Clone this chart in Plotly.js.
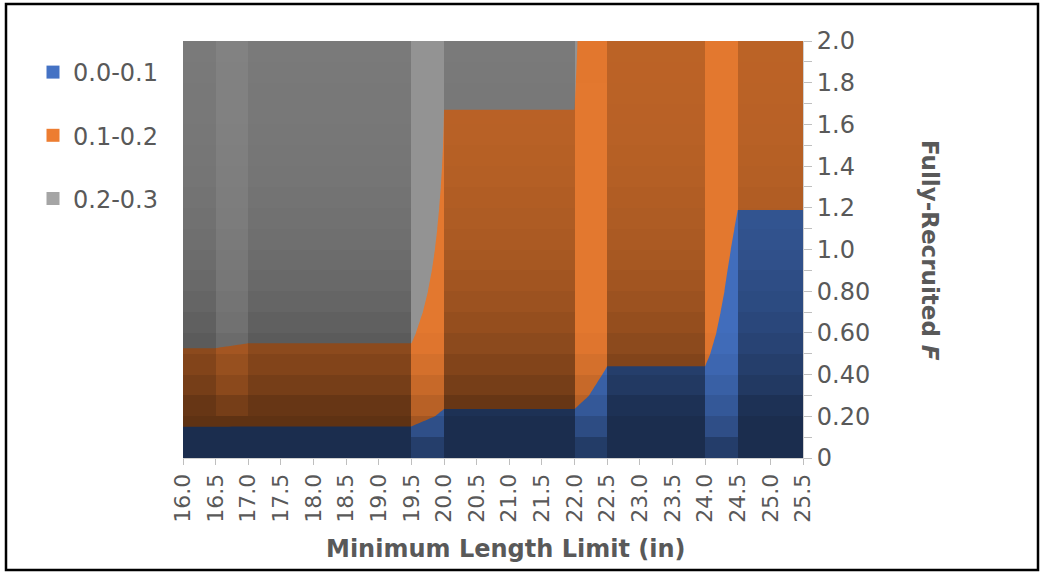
<!DOCTYPE html>
<html><head><meta charset="utf-8">
<script src="https://cdn.plot.ly/plotly-3.0.1.min.js"></script>
<style>html,body{margin:0;padding:0;background:#fff}#chart{width:1045px;height:575px}</style>
</head><body><div id="chart"></div>
<script>
// ---- data ----
const lengthLimits = [16.0,16.5,17.0,17.5,18.0,18.5,19.0,19.5,20.0,20.5,21.0,21.5,22.0,22.5,23.0,23.5,24.0,24.5,25.0,25.5];
const lengthLabels = ['16.0','16.5','17.0','17.5','18.0','18.5','19.0','19.5','20.0','20.5','21.0','21.5','22.0','22.5','23.0','23.5','24.0','24.5','25.0','25.5'];
const fValues = [0,0.1,0.2,0.3,0.4,0.5,0.6,0.7,0.8,0.9,1.0,1.1,1.2,1.3,1.4,1.5,1.6,1.7,1.8,1.9,2.0];
const fTickVals = [0,0.2,0.4,0.6,0.8,1.0,1.2,1.4,1.6,1.8,2.0];
const fTickLabels = ['0','0.20','0.40','0.60','0.80','1.0','1.2','1.4','1.6','1.8','2.0'];
const bandNames = ['0.0-0.1','0.1-0.2','0.2-0.3'];
const bandColors = ['#4472c4','#ed7d31','#a5a5a5'];
// value of the surface along F for each group of length limits
const profileA = [0,0.075,0.125,0.158,0.179,0.196,0.211,0.223,0.233,0.241,0.248,0.254,0.259,0.264,0.268,0.272,0.275,0.278,0.281,0.284,0.286];
const profileB = [0,0.075,0.124,0.155,0.176,0.193,0.207,0.219,0.229,0.237,0.244,0.250,0.255,0.260,0.264,0.268,0.271,0.274,0.277,0.280,0.282];
const profileC = [0,0.052,0.091,0.117,0.134,0.147,0.157,0.165,0.172,0.178,0.183,0.187,0.1905,0.1935,0.196,0.198,0.1993,0.2003,0.2012,0.202,0.2027];
const profileD = [0,0.035,0.060,0.079,0.094,0.109,0.121,0.130,0.138,0.144,0.149,0.153,0.157,0.160,0.163,0.165,0.167,0.169,0.171,0.172,0.173];
const profileE = [0,0.014,0.026,0.036,0.045,0.053,0.060,0.067,0.074,0.080,0.087,0.094,0.1007,0.106,0.111,0.116,0.120,0.124,0.128,0.131,0.134];
const columnProfile = ['A','A','B','B','B','B','B','B','C','C','C','C','C','D','D','D','D','E','E','E'];

// ---- build ----
const profiles = {A:profileA,B:profileB,C:profileC,D:profileD,E:profileE};
const z = fValues.map((f,j)=>columnProfile.map(p=>profiles[p][j]));

// shading (3-D lighting look): darker toward F=0, lighter on steep facets
const shade = [];
for(let j=0;j<fValues.length-1;j++){
  const Fc=(fValues[j]+fValues[j+1])/2;
  const base=0.40+0.41*(1-Math.exp(-Math.max(0,Fc-0.2)/0.55));
  const w=Math.min(1,0.4+Fc);
  const row=[];
  for(let i=0;i<lengthLimits.length-1;i++){
    const dz=(Math.abs(z[j][i+1]-z[j][i])+Math.abs(z[j+1][i+1]-z[j+1][i]))/2;
    const s=Math.min(1,Math.sqrt(Math.max(0,dz-0.001)/0.03));
    const b=base+(0.96-base)*s*w;
    row.push(1-b);
  }
  shade.push(row);
}

const surfaceGray='#9a9a9a';
const font='DejaVu Sans, Liberation Sans, Arial, sans-serif';
const txt='#595959';
const traces=[
  {type:'contour',x:lengthLimits,y:fValues,z:z,
   contours:{start:0.1,end:0.2,size:0.1,coloring:'fill',showlines:false},
   line:{width:0,smoothing:0},
   colorscale:[[0,bandColors[0]],[0.3333,bandColors[0]],[0.3333,bandColors[1]],[0.6667,bandColors[1]],[0.6667,surfaceGray],[1,surfaceGray]],
   showscale:false,hoverinfo:'skip',showlegend:false},
  {type:'heatmap',x:lengthLimits,y:fValues,z:shade,zmin:0,zmax:1,zsmooth:false,xaxis:'x2',yaxis:'y2',
   colorscale:[[0,'rgba(0,0,0,0)'],[1,'rgba(0,0,0,1)']],showscale:false,hoverinfo:'skip',showlegend:false}
];
bandNames.forEach((n,k)=>traces.push({type:'scatter',mode:'markers',x:[null],y:[null],name:n,legendgroup:'g'+k,
  marker:{symbol:'square',size:13,color:bandColors[k]},hoverinfo:'skip'}));

const W=620,H=417,L=183,T=41;
const px=(x)=>(x-L)/W, py=(y)=>(T+H-y)/H;
const layout={
  width:1045,height:575,
  margin:{l:L,r:1045-L-W,t:T,b:575-T-H,pad:0},
  paper_bgcolor:'#fff',plot_bgcolor:'#fff',
  font:{family:font,color:txt},
  showlegend:true,
  legend:{x:px(33),xanchor:'left',y:py(50),yanchor:'top',font:{family:font,size:24,color:txt},
    traceorder:'grouped',tracegroupgap:29,itemwidth:30,bgcolor:'rgba(0,0,0,0)'},
  xaxis:{range:[16,25.5],tickmode:'array',tickvals:lengthLimits,ticktext:lengthLabels,tickangle:-90,
    ticks:'outside',ticklen:6,tickcolor:'#bfbfbf',showline:true,linecolor:'#d0d0d0',
    tickfont:{family:font,size:22,color:txt},showgrid:false,zeroline:false,fixedrange:true},
  yaxis:{side:'right',range:[0,2],tickmode:'array',tickvals:fTickVals,ticktext:fTickLabels,
    ticks:'outside',ticklen:8,tickcolor:'#bfbfbf',showline:true,linecolor:'#d0d0d0',
    minor:{tickmode:'linear',tick0:0,dtick:0.1,ticks:'outside',ticklen:8,tickcolor:'#bfbfbf'},
    tickfont:{family:font,size:24,color:txt},showgrid:false,zeroline:false,fixedrange:true},
  xaxis2:{overlaying:'x',range:[16,25.5],visible:false,fixedrange:true},
  yaxis2:{overlaying:'y',range:[0,2],visible:false,fixedrange:true},
  annotations:[
    {xref:'paper',yref:'paper',x:px(505),y:py(549),text:'<b>Minimum Length Limit (in)</b>',showarrow:false,
     font:{family:font,size:24,color:txt},xanchor:'center',yanchor:'middle'},
    {xref:'paper',yref:'paper',x:px(930),y:py(250),text:'<b>Fully-Recruited <i>F</i></b>',showarrow:false,textangle:90,
     font:{family:font,size:23,color:txt},xanchor:'center',yanchor:'middle'}
  ],
  shapes:[{type:'rect',xref:'paper',yref:'paper',x0:px(6),x1:px(1038),y0:py(570),y1:py(4),
    line:{color:'#000',width:2.5},fillcolor:'rgba(0,0,0,0)',layer:'above'}]
};
Plotly.newPlot('chart',traces,layout,{displayModeBar:false,staticPlot:true});
</script></body></html>
